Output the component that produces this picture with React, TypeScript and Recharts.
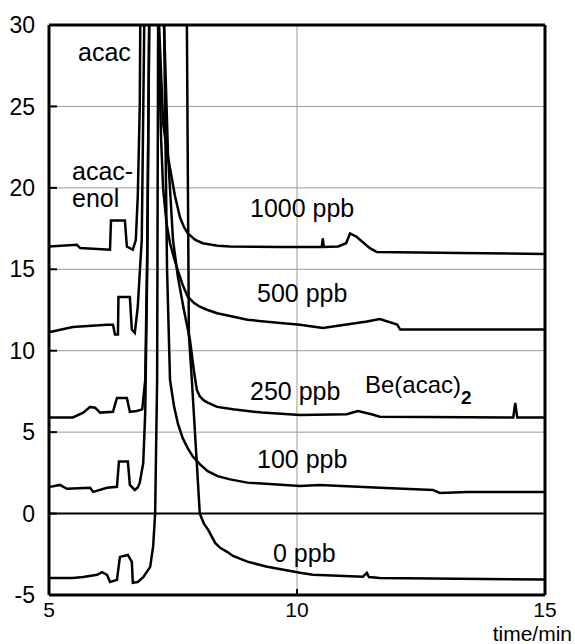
import React from 'react';
import {
  LineChart,
  Line,
  XAxis,
  YAxis,
  CartesianGrid,
  ReferenceLine,
} from 'recharts';

// time (min), signal, traces offset by concentration
const ppb1000: [number, number][] = [
  [5.0, 16.4], [5.56, 16.5], [5.63, 16.3], [6.23, 16.2], [6.25, 18.0], [6.53, 18.0],
  [6.57, 16.4], [6.69, 16.2], [6.75, 16.8], [6.79, 19.5], [6.83, 25], [6.86, 40],
  [7.16, 40], [7.22, 30], [7.3, 24], [7.37, 22.4], [7.44, 21.2], [7.54, 19.5],
  [7.64, 18.2], [7.72, 17.6], [7.8, 17.2], [7.95, 16.8], [8.1, 16.6], [8.4, 16.45],
  [8.65, 16.4], [9.66, 16.37], [10.5, 16.37], [10.52, 16.9], [10.54, 16.37],
  [10.83, 16.4], [10.99, 16.6], [11.07, 17.2], [11.2, 17.0], [11.47, 16.3], [11.61, 16.06],
  [13.29, 16.0], [15, 15.94],
];

const ppb500: [number, number][] = [
  [5.02, 11.15], [5.48, 11.45], [6.17, 11.6], [6.29, 11.6], [6.33, 11.0], [6.39, 11.0],
  [6.4, 13.3], [6.63, 13.3], [6.67, 11.3], [6.73, 11.1], [6.79, 12.7], [6.83, 14.8],
  [6.87, 16.8], [6.92, 30], [6.94, 40], [7.16, 40], [7.2, 30], [7.26, 23], [7.3, 20],
  [7.37, 17.8], [7.44, 16.6], [7.52, 15.7], [7.6, 14.9], [7.7, 14.0], [7.8, 13.3],
  [7.92, 12.95], [8.04, 12.7], [8.2, 12.5], [8.39, 12.3], [8.7, 12.1], [9.0, 11.9],
  [9.5, 11.75], [10.06, 11.6], [10.52, 11.4], [11.41, 11.8], [11.67, 11.95], [12.02, 11.6],
  [12.08, 11.3], [15, 11.3],
];

const ppb250: [number, number][] = [
  [5.02, 5.9], [5.48, 5.9], [5.69, 6.2], [5.83, 6.55], [5.93, 6.5], [6.03, 6.2],
  [6.29, 6.25], [6.37, 7.1], [6.57, 7.1], [6.63, 6.25], [6.77, 6.3], [6.88, 6.4],
  [6.94, 8.2], [6.98, 16], [7.02, 30], [7.04, 40], [7.26, 40], [7.32, 30], [7.4, 22],
  [7.5, 16.8], [7.6, 14.5], [7.72, 12.5], [7.84, 10.7], [7.92, 8.8], [7.98, 7.6],
  [8.04, 7.2], [8.12, 6.95], [8.21, 6.8], [8.39, 6.55], [8.71, 6.4], [9.3, 6.2],
  [10.06, 6.05], [11.0, 6.1], [11.23, 6.3], [11.5, 6.1], [11.67, 5.95], [14.36, 5.9],
  [14.4, 6.8], [14.44, 5.9], [15, 5.9],
];

const ppb100: [number, number][] = [
  [5.02, 1.64], [5.22, 1.76], [5.36, 1.52], [5.83, 1.58], [5.89, 1.33], [6.17, 1.58],
  [6.37, 1.64], [6.41, 3.2], [6.59, 3.2], [6.63, 1.76], [6.73, 1.45], [6.79, 1.6],
  [6.83, 1.9], [6.9, 3.1], [6.94, 6.2], [6.98, 15], [7.02, 30], [7.04, 40], [7.28, 40],
  [7.32, 30], [7.38, 15], [7.44, 8.2], [7.52, 6.6], [7.6, 5.5], [7.7, 4.6], [7.8, 4.0],
  [7.9, 3.5], [8.05, 3.0], [8.2, 2.6], [8.4, 2.3], [8.65, 2.1], [9.0, 1.9], [10.06, 1.7],
  [10.46, 1.76], [11.67, 1.58], [12.74, 1.45], [12.88, 1.27], [13.43, 1.33], [15, 1.33],
];

const ppb0: [number, number][] = [
  [5.02, -3.95], [5.48, -3.95], [5.69, -3.9], [5.97, -3.76], [6.07, -3.6], [6.17, -3.76],
  [6.23, -4.2], [6.37, -4.07], [6.43, -2.66], [6.59, -2.54], [6.67, -2.97], [6.69, -4.25],
  [6.79, -4.2], [6.9, -3.9], [7.04, -3.27], [7.1, -2.0], [7.14, 0], [7.18, 8.2],
  [7.2, 30], [7.22, 40], [7.76, 40], [7.78, 30], [7.82, 11], [7.88, 8.2], [7.98, 3.1],
  [8.04, 0.0], [8.12, -0.6], [8.21, -1.0], [8.35, -1.8], [8.45, -2.1], [8.59, -2.35],
  [8.71, -2.6], [9.0, -2.95], [9.4, -3.27], [10.06, -3.64], [10.32, -3.76],
  [11.33, -3.88], [11.41, -3.64], [11.45, -3.9], [11.67, -3.95], [15, -4.05],
];

const traces = [ppb1000, ppb500, ppb250, ppb100, ppb0];
const xTicks = [5, 10, 15];
const yTicks = [-5, 0, 5, 10, 15, 20, 25, 30];

const FONT = 'Liberation Sans, Arial, sans-serif';

const toRows = (pts: [number, number][]) => pts.map(([t, y]) => ({ t, y }));

export default function App() {
  return (
    <div style={{ position: 'absolute', left: 0, top: 0, width: 575, height: 644, background: '#fff' }}>
      <LineChart width={575} height={644} margin={{ top: 25, right: 0, bottom: 0, left: 0 }}>
        <CartesianGrid xAxisId="x" yAxisId="l" stroke="#9a9a9a" strokeWidth={1} />
        <XAxis
          xAxisId="x"
          type="number"
          dataKey="t"
          domain={[5, 15]}
          ticks={xTicks}
          height={49}
          axisLine={{ stroke: '#000', strokeWidth: 3 }}
          tickLine={{ stroke: '#000', strokeWidth: 2 }}
          tickSize={-6}
          tickMargin={13}
          tick={{ fill: '#000', fontSize: 21, fontFamily: FONT }}
          interval={0}
        />
        <YAxis
          yAxisId="l"
          type="number"
          domain={[-5, 30]}
          ticks={yTicks}
          allowDataOverflow
          width={49}
          axisLine={{ stroke: '#000', strokeWidth: 3 }}
          tickLine={{ stroke: '#000', strokeWidth: 2 }}
          tickSize={-8}
          tickMargin={22}
          tick={{ fill: '#000', fontSize: 23, fontFamily: FONT }}
          interval={0}
        />
        <YAxis
          yAxisId="r"
          orientation="right"
          type="number"
          domain={[-5, 30]}
          ticks={yTicks}
          allowDataOverflow
          width={30}
          axisLine={{ stroke: '#000', strokeWidth: 3 }}
          tickLine={{ stroke: '#000', strokeWidth: 2 }}
          tickSize={-7}
          tick={false}
          interval={0}
        />
        <ReferenceLine xAxisId="x" yAxisId="l" y={0} stroke="#000" strokeWidth={2} />
        <ReferenceLine xAxisId="x" yAxisId="l" y={30} stroke="#000" strokeWidth={3} />
        {traces.map((tr, i) => (
          <Line
            key={i}
            xAxisId="x"
            yAxisId="l"
            data={toRows(tr)}
            dataKey="y"
            type="linear"
            stroke="#000"
            strokeWidth={2.5}
            dot={false}
            isAnimationActive={false}
          />
        ))}
      </LineChart>
      <svg
        width={575}
        height={644}
        style={{ position: 'absolute', left: 0, top: 0, pointerEvents: 'none' }}
        fontFamily={FONT}
        fill="#000"
      >
        <text x={78} y={61} fontSize={25}>acac</text>
        <text x={72} y={180} fontSize={25}>acac-</text>
        <text x={72} y={207} fontSize={25}>enol</text>
        <text x={250} y={217} fontSize={25}>1000 ppb</text>
        <text x={257} y={302} fontSize={25}>500 ppb</text>
        <text x={250} y={400} fontSize={25}>250 ppb</text>
        <text x={257} y={468} fontSize={25}>100 ppb</text>
        <text x={273} y={562} fontSize={25}>0 ppb</text>
        <text x={365} y={393} fontSize={24}>Be(acac)</text>
        <text x={461} y={404} fontSize={19} fontWeight="bold">2</text>
        <text x={572} y={641} fontSize={21} textAnchor="end">time/min</text>
      </svg>
    </div>
  );
}
